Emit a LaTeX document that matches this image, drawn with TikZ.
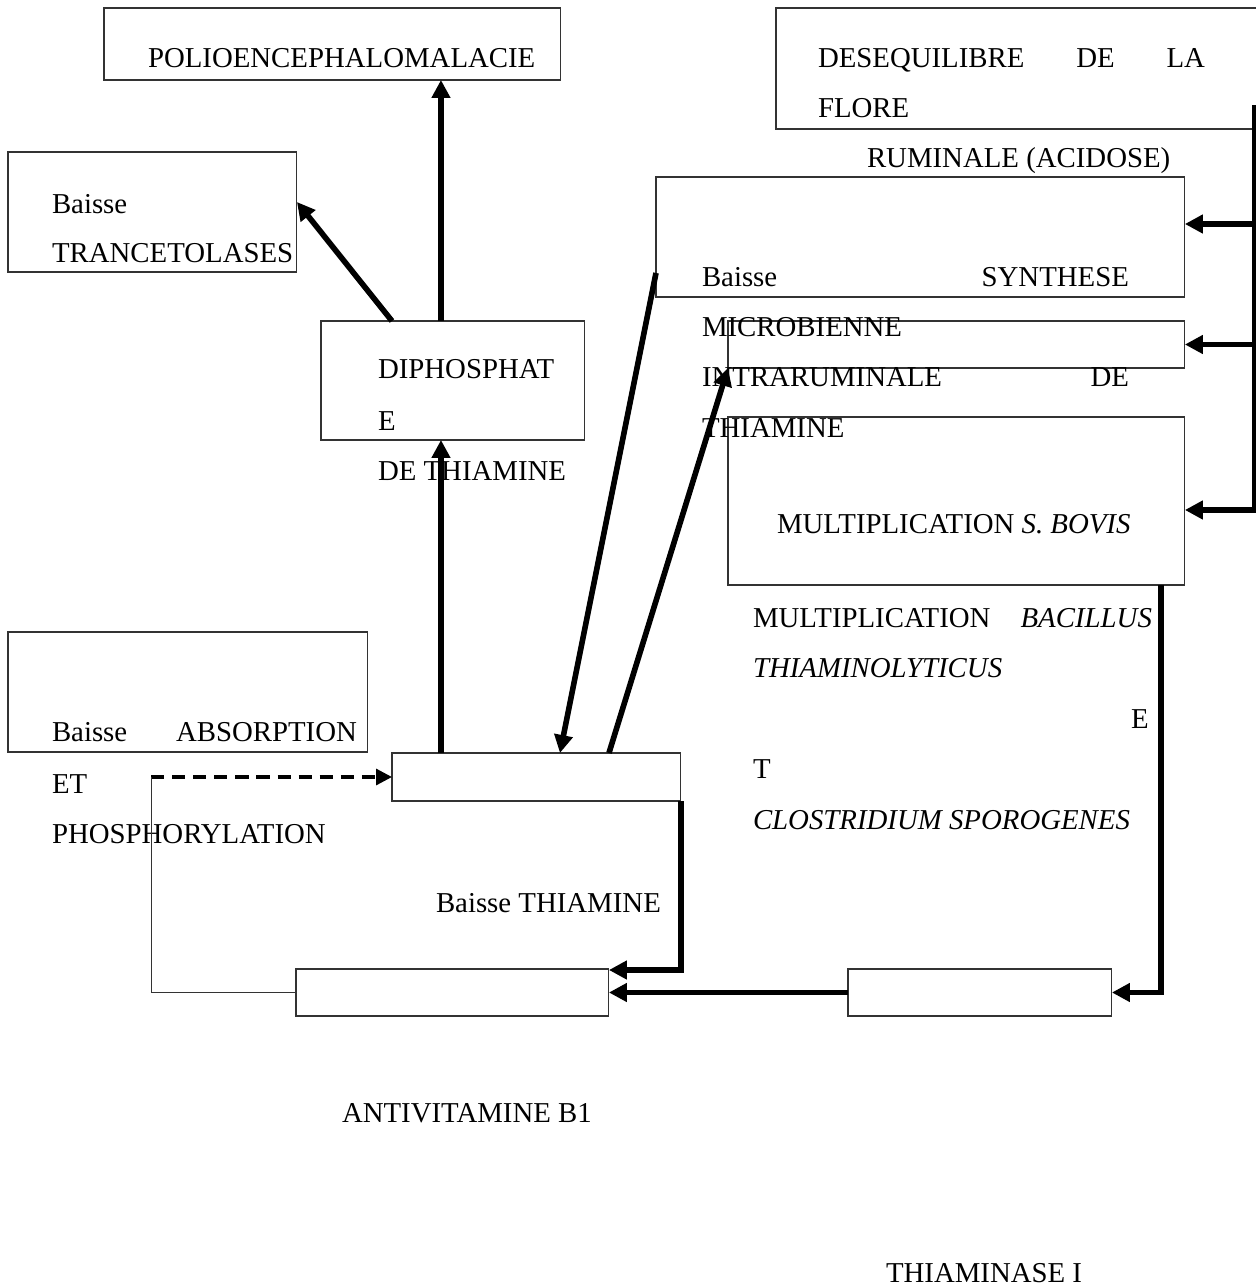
\documentclass[tikz,border=0pt]{standalone}
\usepackage{fontspec}
\setmainfont{Liberation Serif}
\usetikzlibrary{arrows.meta,calc}

\begin{document}
\begin{tikzpicture}[
  x=0.02cm, y=-0.02cm,
  font=\fontsize{16.4pt}{28pt}\selectfont,
  box/.style={rectangle, draw=black!80, line width=0.6pt, inner sep=0, outer sep=0, anchor=north west},
  txt/.style={anchor=base west, inner sep=0, outer sep=0},
  arrow/.style={-{Triangle[length=0.36cm,width=0.36cm]}, line width=3.2pt},
  dasharrow/.style={-{Triangle[length=0.32cm,width=0.32cm]}, line width=1.8pt, dash pattern=on 7.5pt off 4.5pt},
  thinline/.style={line width=0.6pt, draw=black!80}
]
  \useasboundingbox (0,0) rectangle (1256,1286);
  \clip (0,0) rectangle (1256,1286);

  \node[box, minimum width=9.14cm, minimum height=1.44cm] (polio) at (104,8) {};
  \node[box, minimum width=9.72cm, minimum height=2.42cm] (desequ) at (776,8) {};
  \node[box, minimum width=5.78cm, minimum height=2.40cm] (transc) at (8,152) {};
  \node[box, minimum width=10.58cm, minimum height=2.40cm] (synth) at (656,177) {};
  \node[box, minimum width=9.14cm, minimum height=0.94cm] (relais) at (728,321) {};
  \node[box, minimum width=9.14cm, minimum height=3.36cm] (bovis) at (728,417) {};
  \node[box, minimum width=5.28cm, minimum height=2.38cm] (diphos) at (321,321) {};
  \node[box, minimum width=7.20cm, minimum height=2.40cm] (absorp) at (8,632) {};
  \node[box, minimum width=5.78cm, minimum height=0.96cm] (thia) at (392,753) {};
  \node[box, minimum width=6.26cm, minimum height=0.94cm] (antivit) at (296,969) {};
  \node[box, minimum width=5.28cm, minimum height=0.94cm] (thiase) at (848,969) {};

  \node[txt] (tpolio) at (148,67) {POLIOENCEPHALOMALACIE};
  \node[txt] (tdeseq) at (818,67) {\makebox[7.74cm][s]{DESEQUILIBRE DE LA}};
  \node[txt] (tflore) at (818,117) {FLORE};
  \node[txt] (trumin) at (867,167) {RUMINALE (ACIDOSE)};
  \node[txt] (tbaisse) at (52,213) {Baisse};
  \node[txt] (ttransc) at (52,262) {TRANCETOLASES};
  \node[txt] (tsynth) at (702,286) {\makebox[8.54cm][s]{Baisse SYNTHESE}};
  \node[txt] (tmicro) at (702,336) {MICROBIENNE};
  \node[txt] (tintra) at (702,386) {\makebox[8.54cm][s]{INTRARUMINALE DE}};
  \node[txt] (tthiam) at (702,437) {THIAMINE};
  \node[txt] (tdiph) at (378,378) {DIPHOSPHAT};
  \node[txt] (tdiphe) at (378,430) {E};
  \node[txt] (tdeth) at (378,480) {DE THIAMINE};
  \node[txt] (tbovis) at (777,533) {MULTIPLICATION \textit{S. BOVIS}};
  \node[txt] (tbacil) at (753,627) {\makebox[7.98cm][s]{MULTIPLICATION \textit{BACILLUS}}};
  \node[txt] (tlytic) at (753,677) {\textit{THIAMINOLYTICUS}};
  \node[txt] (tete) at (1131,728) {E};
  \node[txt] (tett) at (753,778) {T};
  \node[txt] (tclost) at (753,829) {\textit{CLOSTRIDIUM SPOROGENES}};
  \node[txt] (tabs) at (52,741) {\makebox[6.1cm][s]{Baisse ABSORPTION}};
  \node[txt] (tet) at (52,793) {ET};
  \node[txt] (tphos) at (52,843) {PHOSPHORYLATION};
  \node[txt] (tbthia) at (436,912) {Baisse THIAMINE};
  \node[txt] (tantiv) at (342,1122) {ANTIVITAMINE B1};
  \node[txt] (tthiase) at (886,1282) {THIAMINASE I};

  \coordinate (up) at ([xshift=2.4cm]diphos.north west);
  \coordinate (lo) at ([xshift=0.98cm]thia.north west);
  \coordinate (bus) at (1255,105);
  \coordinate (s1) at ([yshift=-0.94cm]synth.north east);
  \coordinate (s3) at ([yshift=-1.86cm]bovis.north east);
  \coordinate (coin) at ([xshift=-4.82cm]thia.west);

  \draw[arrow] (up) -- (up |- polio.south);
  \draw[arrow] ([xshift=1.42cm]diphos.north west) -- ([yshift=-1cm]transc.north east);
  \draw[arrow] (lo) -- (lo |- diphos.south);
  \draw[arrow] ([yshift=-1.92cm]synth.north west) -- ([xshift=3.36cm]thia.north west);
  \draw[arrow] ([xshift=4.34cm]thia.north west) -- (relais.south west);
  \draw[arrow] (bus) |- (s3);
  \draw[arrow] (bus |- s1) -- (s1);
  \draw[arrow] (bus |- relais.east) -- (relais.east);
  \draw[arrow] ([xshift=-0.48cm]bovis.south east) |- (thiase.east);
  \draw[arrow] (thiase.west) -- (antivit.east);
  \draw[arrow] (thia.south east) |- ([yshift=-0.02cm]antivit.north east);
  \draw[dasharrow] (coin) -- (thia.west);
  \draw[thinline] (coin) |- (antivit.west);
\end{tikzpicture}
\end{document}
